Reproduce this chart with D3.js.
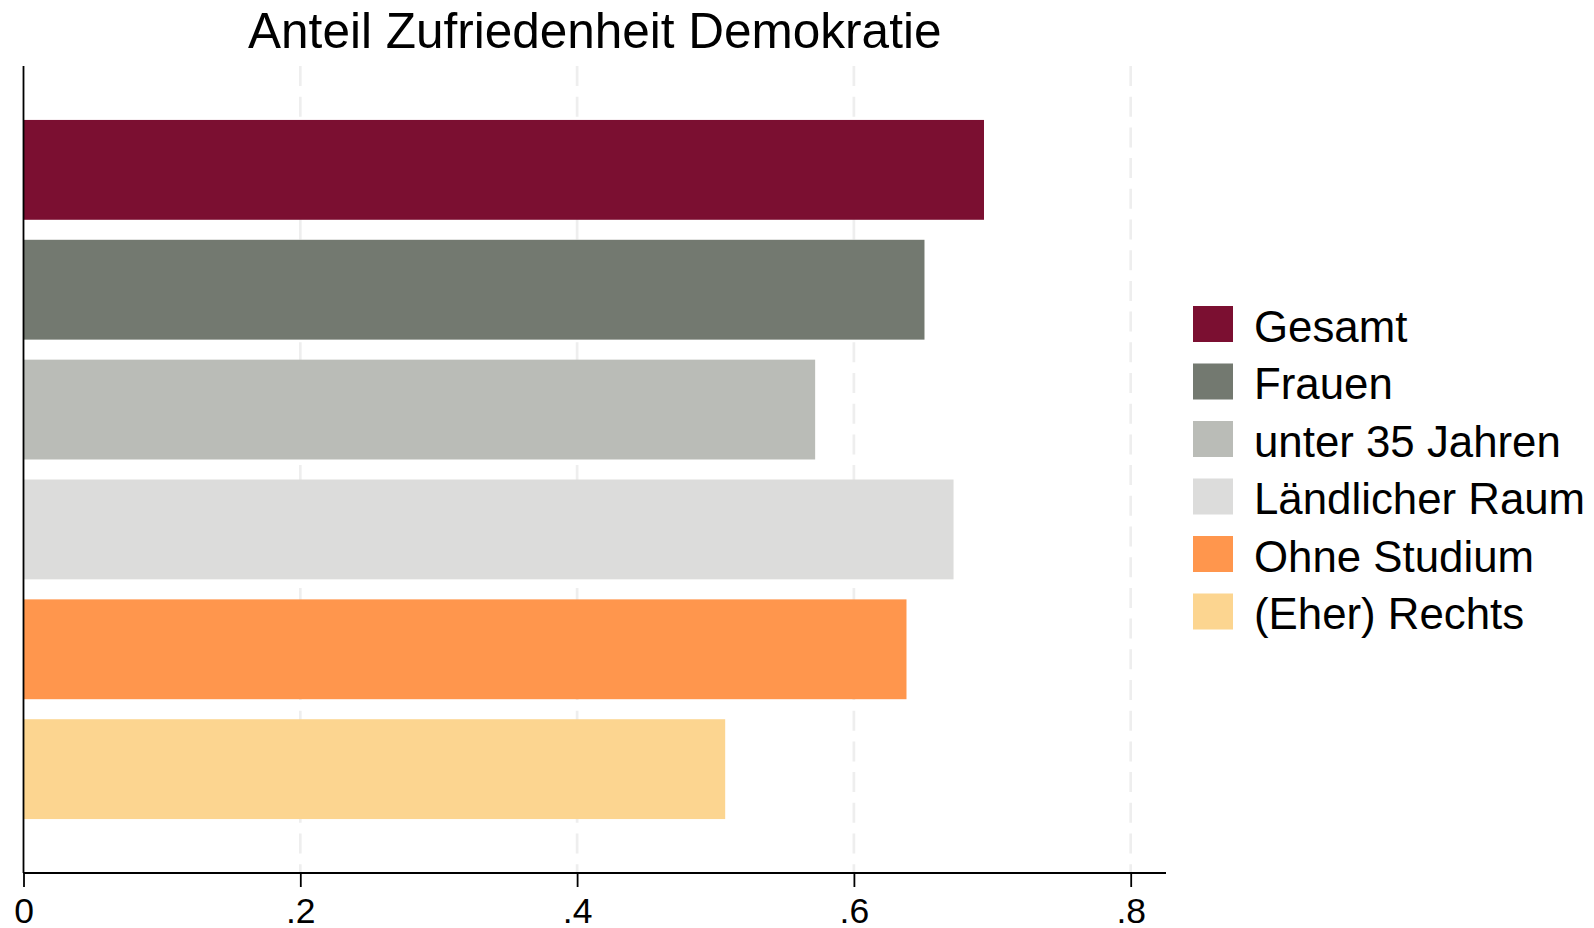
<!DOCTYPE html>
<html>
<head>
<meta charset="utf-8">
<script src="https://cdn.jsdelivr.net/npm/d3@7"></script>
<style>
  html, body { margin: 0; padding: 0; background: #fff; }
  svg { display: block; font-family: "Liberation Sans", Arial, Helvetica, sans-serif; }
</style>
</head>
<body>
<svg id="chart" width="1594" height="928"></svg>
<script>
const title = "Anteil Zufriedenheit Demokratie";
const categories = ["Gesamt", "Frauen", "unter 35 Jahren", "Ländlicher Raum", "Ohne Studium", "(Eher) Rechts"];
const values = [0.694, 0.651, 0.572, 0.672, 0.638, 0.507];
const colors = ["#7b0f31", "#737970", "#babcb7", "#dcdcdb", "#ff964d", "#fcd590"];
const tickValues = [0, 0.2, 0.4, 0.6, 0.8];

(function () {
const svg = d3.select("#chart");
const pLeft = 23.5, pRight = 1166, pTop = 66, pBottom = 873;

const x = d3.scaleLinear().domain([0, 0.8]).range([pLeft, 1130.7]);
const y = d3.scaleBand().domain(categories).range([pTop, pBottom])
  .paddingInner(0.167).paddingOuter(0.45);
const color = d3.scaleOrdinal().domain(categories).range(colors);

// grid lines
svg.append("g").selectAll("line")
  .data(tickValues.filter(d => d > 0))
  .join("line")
  .attr("x1", d => x(d)).attr("x2", d => x(d))
  .attr("y1", pTop).attr("y2", pBottom)
  .attr("stroke", "#eeeeee").attr("stroke-width", 2.7)
  .attr("stroke-dasharray", "20,10.7");

// bars
svg.append("g").selectAll("rect")
  .data(categories)
  .join("rect")
  .attr("x", x(0))
  .attr("y", d => y(d))
  .attr("width", (d, i) => x(values[i]) - x(0))
  .attr("height", y.bandwidth())
  .attr("fill", d => color(d));

// x axis
const fmt = d => d === 0 ? "0" : d3.format(".1f")(d).replace(/^0/, "");
const xAxis = svg.append("g")
  .attr("transform", `translate(0,${pBottom})`)
  .call(d3.axisBottom(x).tickValues(tickValues).tickFormat(fmt).tickSize(14).tickPadding(11));
xAxis.select(".domain").remove();
xAxis.selectAll(".tick line").attr("stroke", "#000").attr("stroke-width", 1.8);
xAxis.selectAll(".tick text").attr("font-size", 35.5).attr("fill", "#000")
  .attr("font-family", "'Liberation Sans', Arial, Helvetica, sans-serif");
svg.append("line")
  .attr("x1", pLeft).attr("x2", pRight).attr("y1", pBottom).attr("y2", pBottom)
  .attr("stroke", "#000").attr("stroke-width", 1.8);

// y axis line
svg.append("line")
  .attr("x1", pLeft).attr("x2", pLeft).attr("y1", pTop).attr("y2", pBottom)
  .attr("stroke", "#000").attr("stroke-width", 1.8);

// title
svg.append("text")
  .attr("x", (pLeft + pRight) / 2).attr("y", 47.5)
  .attr("text-anchor", "middle").attr("font-size", 49.5).attr("fill", "#000")
  .text(title);

// legend
const legend = svg.append("g").attr("transform", "translate(1193,306)");
const items = legend.selectAll("g").data(categories).join("g")
  .attr("transform", (d, i) => `translate(0,${i * 57.5})`);
items.append("rect").attr("width", 40).attr("height", 36).attr("fill", d => color(d));
items.append("text").attr("x", 61).attr("y", 35.5).attr("font-size", 43.8).attr("fill", "#000")
  .text(d => d);
})();
</script>
</body>
</html>
